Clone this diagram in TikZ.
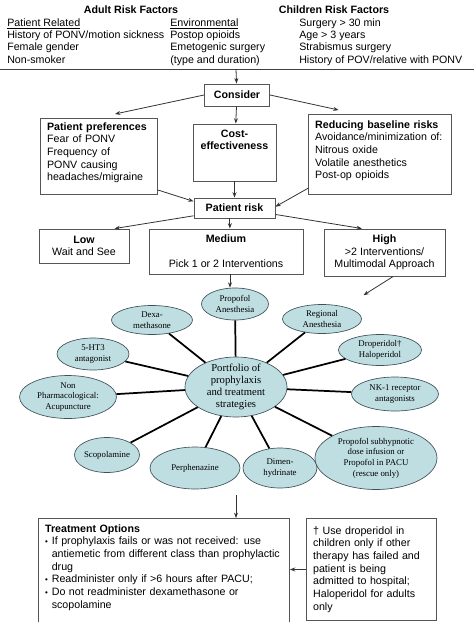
\documentclass[tikz,border=0pt]{standalone}
\usepackage{fontspec}
\setmainfont{Liberation Serif}
\setsansfont{Liberation Sans}
\usetikzlibrary{shapes.geometric,arrows.meta}
\definecolor{petalfill}{RGB}{191,222,226}
\definecolor{petalline}{RGB}{62,82,88}
\definecolor{boxline}{RGB}{85,85,85}
\newcommand{\itembullet}{\makebox[5pt][l]{\fontsize{6}{6}\selectfont\textbullet}}
\tikzset{
  head/.style={inner sep=0pt, font=\sffamily\bfseries\fontsize{8}{9.15}\selectfont},
  col/.style={inner sep=0pt, anchor=north west, align=left, font=\sffamily\fontsize{8}{9.15}\selectfont},
  box/.style={draw=boxline, line width=0.7pt, inner xsep=5pt, inner ysep=3pt, font=\sffamily\fontsize{8}{9.5}\selectfont},
  petal/.style={ellipse, draw=petalline, line width=0.5pt, fill=petalfill, inner sep=-2pt, align=center, font=\rmfamily\fontsize{6.6}{8}\selectfont},
  spoke/.style={black, line width=1.3pt},
  arr/.style={-{Stealth[length=4pt,width=3pt]}, draw=black!80, line width=0.6pt}
}
\begin{document}
\begin{tikzpicture}[x=0.75pt,y=-0.75pt] %risk factors to treatment
\useasboundingbox (0,0) rectangle (474,622);

\node[head] (adult) at (131,10) {Adult Risk Factors};
\node[head] (child) at (334,10) {Children Risk Factors};
\node[col] (patrel) at (7,18.4) {\underline{Patient Related}\\History of PONV/motion sickness\\Female gender\\Non-smoker};
\node[col] (environ) at (170,18.4) {\underline{Environmental}\\Postop opioids\\Emetogenic surgery\\(type and duration)};
\node[col] (childrf) at (299,18.4) {Surgery > 30 min\\Age > 3 years\\Strabismus surgery\\History of POV/relative with PONV};

\coordinate (rulel) at (0,69);
\coordinate (ruler) at (474,69);
\coordinate (ruletop) at (236,69);
\draw[black!75, line width=0.7pt] (rulel) -- (ruler);

\node[box, minimum width=48.75pt, minimum height=16.5pt] (consider) at (237,95) {\bfseries Consider};
\node[box, anchor=north west, text width=77.75pt, minimum height=57pt, align=left] (pref) at (40,118)
  {\textbf{Patient preferences}\\Fear of PONV\\Frequency of\\PONV causing\\headaches/migraine\\[-2pt]~};
\node[box, minimum width=62.25pt, minimum height=42.75pt, align=center] (cost) at (234.5,152.5)
  {\textbf{Cost-}\\\textbf{effectiveness}\\~\\~};
\node[box, anchor=north west, text width=97.25pt, minimum height=60pt, align=left] (reduce) at (308,114)
  {\textbf{Reducing baseline risks}\\Avoidance/minimization of:\\Nitrous oxide\\Volatile anesthetics\\Post-op opioids\\[-2pt]~};
\node[box, minimum width=60.75pt, minimum height=15pt] (risk) at (234.5,208) {\bfseries Patient risk};
\node[box, minimum width=67.5pt, minimum height=25.5pt, align=center] (low) at (84,246)
  {\textbf{Low}\\Wait and See};
\node[box, minimum width=115.5pt, minimum height=33.75pt, align=center] (medium) at (226,251.5)
  {\textbf{Medium}\\~\\Pick 1 or 2 Interventions};
\node[box, minimum width=90.75pt, minimum height=35.25pt, align=center] (high) at (384.5,252.5)
  {\textbf{High}\\>2 Interventions/\\Multimodal Approach};

\draw[arr] (ruletop) -- (consider);
\draw[arr] (consider.west) -- ([shift={(12pt,3pt)}]pref.north);
\draw[arr] (consider.east) -- ([shift={(-31pt,3pt)}]reduce.north);
\draw[arr] (consider) -- (cost);
\draw[arr] ([yshift=4pt]pref.south east) -- ([yshift=5pt]risk.west);
\draw[arr] (cost) -- (risk);
\draw[arr] ([yshift=5pt]reduce.south west) -- ([yshift=1pt]risk.east);
\draw[arr] ([yshift=2pt]risk.south west) -- ([xshift=23pt]low.north);
\draw[arr] ([xshift=-3.5pt]risk.south) -- ([xshift=-3.5pt]risk.south |- medium.north);
\draw[arr] ([yshift=3pt]risk.south east) -- ([xshift=-17pt]high.north);

% portfolio
\node[petal, minimum width=76.5pt, minimum height=45pt, font=\rmfamily\fontsize{8}{9}\selectfont] (port) at (236,387)
  {Portfolio of\\prophylaxis\\and treatment\\strategies};
\node[petal, minimum width=50.25pt, minimum height=24pt] (prop) at (235,304) {Propofol\\Anesthesia};
\node[petal, minimum width=60.75pt, minimum height=21.75pt] (dexa) at (152,320) {Dexa-\\methasone};
\node[petal, minimum width=59.25pt, minimum height=21.75pt] (reg) at (322,319) {Regional\\Anesthesia};
\node[petal, minimum width=54pt, minimum height=24pt] (ht) at (93,354) {5-HT3\\antagonist};
\node[petal, minimum width=62.25pt, minimum height=23.25pt] (drop) at (380,350) {Droperidol†\\Haloperidol};
\node[petal, minimum width=72.75pt, minimum height=32.25pt] (nonph) at (68,397) {Non\\Pharmacological:\\Acupuncture};
\node[petal, minimum width=65.25pt, minimum height=25.5pt] (nk) at (395,394) {NK-1 receptor\\antagonists};
\node[petal, minimum width=48.75pt, minimum height=26.25pt] (scop) at (107,455) {Scopolamine};
\node[petal, minimum width=67.5pt, minimum height=31.5pt] (perph) at (195,468) {Perphenazine};
\node[petal, minimum width=55.5pt, minimum height=30pt] (dimen) at (280,468) {Dimen-\\hydrinate};
\node[petal, minimum width=91.5pt, minimum height=47.25pt] (propsub) at (376,458)
  {Propofol subhypnotic\\dose infusion or\\Propofol in PACU\\(rescue only)};

\foreach \p in {prop,dexa,reg,ht,drop,nonph,nk,scop,perph,dimen,propsub}
  \draw[spoke] (port) -- (\p);

\draw[arr] ([xshift=3pt]medium.south) -- ([xshift=3pt]medium.south |- prop.north);
\draw[arr] ([xshift=6.5pt]high.south) -- ([shift={(10pt,10pt)}]reg.north east);

% treatment
\node[box, anchor=north west, text width=178.25pt, inner ysep=4.5pt, align=left] (treat) at (38,518)
  {\textbf{Treatment Options}\\
   \itembullet If prophylaxis fails or was not received: use\\
   \hspace*{5pt}antiemetic from different class than prophylactic\\
   \hspace*{5pt}drug\\
   \itembullet Readminister only if >6 hours after PACU;\\
   \itembullet Do not readminister dexamethasone or\\
   \hspace*{5pt}scopolamine\\~\\~\\~\\~};
\node[box, anchor=north west, text width=87.5pt, minimum height=76.5pt, align=left] (note) at (306,518)
  {† Use droperidol in\\children only if other\\therapy has failed and\\patient is being\\admitted to hospital;\\Haloperidol for adults\\only};

\coordinate (portdown) at (236,495);
\draw[arr] (portdown) -- (portdown |- treat.north);
\draw[arr] (note.west) -- (note.west -| treat.east);
\end{tikzpicture}
\end{document}
